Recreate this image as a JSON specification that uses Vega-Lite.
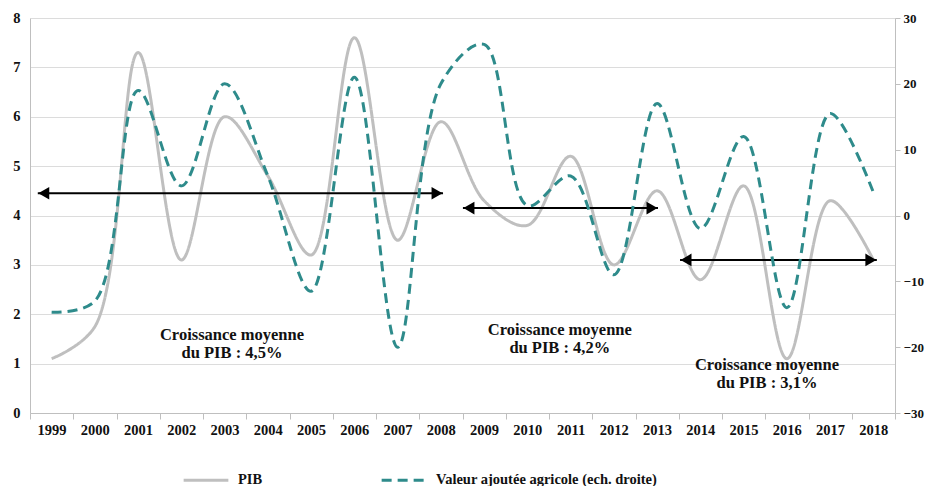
{
  "$schema": "https://vega.github.io/schema/vega-lite/v6.json",
  "width": 865,
  "height": 395,
  "autosize": "none",
  "padding": {"left": 30, "top": 18, "right": 30, "bottom": 73},
  "background": "white",
  "config": {
    "view": {"stroke": null},
    "font": "Liberation Serif",
    "axis": {"labelFont": "Liberation Serif", "labelFontWeight": "bold", "labelFontSize": 14.5, "labelColor": "#111111", "titleFontSize": 0},
    "legend": {"labelFont": "Liberation Serif", "labelFontWeight": "bold", "labelFontSize": 14.5, "labelColor": "#111111", "labelLimit": 500}
  },
  "datasets": {
    "series": [
      {"year": 1999, "series": "PIB", "value": 1.1},
      {"year": 2000, "series": "PIB", "value": 1.75},
      {"year": 2001, "series": "PIB", "value": 7.3},
      {"year": 2002, "series": "PIB", "value": 3.1},
      {"year": 2003, "series": "PIB", "value": 6.0},
      {"year": 2004, "series": "PIB", "value": 4.8},
      {"year": 2005, "series": "PIB", "value": 3.2},
      {"year": 2006, "series": "PIB", "value": 7.6},
      {"year": 2007, "series": "PIB", "value": 3.5},
      {"year": 2008, "series": "PIB", "value": 5.9},
      {"year": 2009, "series": "PIB", "value": 4.3},
      {"year": 2010, "series": "PIB", "value": 3.8},
      {"year": 2011, "series": "PIB", "value": 5.2},
      {"year": 2012, "series": "PIB", "value": 3.0},
      {"year": 2013, "series": "PIB", "value": 4.5},
      {"year": 2014, "series": "PIB", "value": 2.7},
      {"year": 2015, "series": "PIB", "value": 4.6},
      {"year": 2016, "series": "PIB", "value": 1.1},
      {"year": 2017, "series": "PIB", "value": 4.3},
      {"year": 2018, "series": "PIB", "value": 3.1},
      {"year": 1999, "series": "Valeur ajoutée agricole (ech. droite)", "value": -14.7},
      {"year": 2000, "series": "Valeur ajoutée agricole (ech. droite)", "value": -13},
      {"year": 2001, "series": "Valeur ajoutée agricole (ech. droite)", "value": 19},
      {"year": 2002, "series": "Valeur ajoutée agricole (ech. droite)", "value": 4.5},
      {"year": 2003, "series": "Valeur ajoutée agricole (ech. droite)", "value": 20},
      {"year": 2004, "series": "Valeur ajoutée agricole (ech. droite)", "value": 6},
      {"year": 2005, "series": "Valeur ajoutée agricole (ech. droite)", "value": -11.5},
      {"year": 2006, "series": "Valeur ajoutée agricole (ech. droite)", "value": 21},
      {"year": 2007, "series": "Valeur ajoutée agricole (ech. droite)", "value": -20},
      {"year": 2008, "series": "Valeur ajoutée agricole (ech. droite)", "value": 20},
      {"year": 2009, "series": "Valeur ajoutée agricole (ech. droite)", "value": 26},
      {"year": 2010, "series": "Valeur ajoutée agricole (ech. droite)", "value": 1.5},
      {"year": 2011, "series": "Valeur ajoutée agricole (ech. droite)", "value": 6},
      {"year": 2012, "series": "Valeur ajoutée agricole (ech. droite)", "value": -9},
      {"year": 2013, "series": "Valeur ajoutée agricole (ech. droite)", "value": 17},
      {"year": 2014, "series": "Valeur ajoutée agricole (ech. droite)", "value": -2},
      {"year": 2015, "series": "Valeur ajoutée agricole (ech. droite)", "value": 12},
      {"year": 2016, "series": "Valeur ajoutée agricole (ech. droite)", "value": -14},
      {"year": 2017, "series": "Valeur ajoutée agricole (ech. droite)", "value": 15.5},
      {"year": 2018, "series": "Valeur ajoutée agricole (ech. droite)", "value": 3.5}
    ],
    "arrows": [
      {"x1": 1998.68, "x2": 2008.05, "y": 4.45},
      {"x1": 2008.51, "x2": 2013.02, "y": 4.15},
      {"x1": 2013.53, "x2": 2018.08, "y": 3.1}
    ],
    "notes": [
      {"x": 2003.17, "y": 1.74, "label": ["Croissance moyenne", "du PIB : 4,5%"]},
      {"x": 2010.75, "y": 1.84, "label": ["Croissance moyenne", "du PIB : 4,2%"]},
      {"x": 2015.54, "y": 1.13, "label": ["Croissance moyenne", "du PIB : 3,1%"]}
    ]
  },
  "layer": [
    {
      "layer": [
        {
          "data": {"name": "series"},
          "transform": [{"filter": "datum.series === 'PIB'"}],
          "mark": {"type": "line", "interpolate": "catmull-rom", "strokeWidth": 3},
          "encoding": {
            "x": {
              "field": "year", "type": "quantitative",
              "scale": {"domain": [1998.5, 2018.5], "nice": false, "zero": false},
              "axis": {
                "title": null, "grid": false,
                "values": [1998.5, 1999.5, 2000.5, 2001.5, 2002.5, 2003.5, 2004.5, 2005.5, 2006.5, 2007.5, 2008.5, 2009.5, 2010.5, 2011.5, 2012.5, 2013.5, 2014.5, 2015.5, 2016.5, 2017.5, 2018.5],
                "labelExpr": "datum.value < 2018 ? format(datum.value + 0.5, 'd') : ''",
                "labelOffset": 21.6, "labelFlush": false, "labelOverlap": false,
                "tickSize": 6, "tickColor": "#bfbfbf", "domainColor": "#bfbfbf",
                "labelPadding": 4
              }
            },
            "y": {
              "field": "value", "type": "quantitative",
              "scale": {"domain": [0, 8], "nice": false},
              "axis": {
                "title": null, "orient": "left",
                "values": [0, 1, 2, 3, 4, 5, 6, 7, 8],
                "grid": true, "gridColor": "#dcdcdc", "ticks": false,
                "domainColor": "#bfbfbf", "labelPadding": 10
              }
            },
            "color": {
              "field": "series", "type": "nominal",
              "scale": {"domain": ["PIB", "Valeur ajoutée agricole (ech. droite)"], "range": ["#bfbfbf", "#2e8b8b"]},
              "legend": {
                "title": null, "orient": "none", "direction": "horizontal",
                "legendX": 152, "legendY": 438,
                "symbolType": "stroke", "symbolSize": 2000, "symbolStrokeWidth": 3,
                "columnPadding": 112, "labelOffset": 8, "labelLimit": 500
              }
            },
            "strokeDash": {
              "field": "series", "type": "nominal",
              "scale": {"domain": ["PIB", "Valeur ajoutée agricole (ech. droite)"], "range": [[1, 0], [10, 6]]},
              "legend": {
                "title": null, "orient": "none", "direction": "horizontal",
                "legendX": 152, "legendY": 438,
                "symbolType": "stroke", "symbolSize": 2000, "symbolStrokeWidth": 3,
                "columnPadding": 112, "labelOffset": 8, "labelLimit": 500
              }
            }
          }
        },
        {
          "data": {"name": "arrows"},
          "mark": {"type": "rule", "color": "black", "strokeWidth": 2},
          "encoding": {
            "x": {"field": "x1", "type": "quantitative"},
            "x2": {"field": "x2"},
            "y": {"field": "y", "type": "quantitative"}
          }
        },
        {
          "data": {"name": "arrows"},
          "mark": {"type": "point", "shape": "triangle-left", "filled": true, "color": "black", "size": 160, "opacity": 1, "xOffset": 6},
          "encoding": {
            "x": {"field": "x1", "type": "quantitative"},
            "y": {"field": "y", "type": "quantitative"}
          }
        },
        {
          "data": {"name": "arrows"},
          "mark": {"type": "point", "shape": "triangle-right", "filled": true, "color": "black", "size": 160, "opacity": 1, "xOffset": -6},
          "encoding": {
            "x": {"field": "x2", "type": "quantitative"},
            "y": {"field": "y", "type": "quantitative"}
          }
        },
        {
          "data": {"name": "notes"},
          "mark": {"type": "text", "font": "Liberation Serif", "fontWeight": "bold", "fontSize": 16.5, "align": "center", "baseline": "top", "lineHeight": 18, "color": "#111111"},
          "encoding": {
            "x": {"field": "x", "type": "quantitative"},
            "y": {"field": "y", "type": "quantitative"},
            "text": {"field": "label"}
          }
        }
      ]
    },
    {
      "data": {"name": "series"},
      "transform": [{"filter": "datum.series !== 'PIB'"}],
      "mark": {"type": "line", "interpolate": "catmull-rom", "strokeWidth": 3},
      "encoding": {
        "x": {"field": "year", "type": "quantitative"},
        "y": {
          "field": "value", "type": "quantitative",
          "scale": {"domain": [-30, 30], "nice": false},
          "axis": {
            "title": null, "orient": "right",
            "values": [-30, -20, -10, 0, 10, 20, 30],
            "grid": false, "tickSize": 5, "tickColor": "#bfbfbf",
            "domainColor": "#bfbfbf", "labelPadding": 3, "labelFontSize": 13
          }
        },
        "color": {"field": "series", "type": "nominal"},
        "strokeDash": {"field": "series", "type": "nominal"}
      }
    }
  ],
  "resolve": {"scale": {"y": "independent"}}
}
